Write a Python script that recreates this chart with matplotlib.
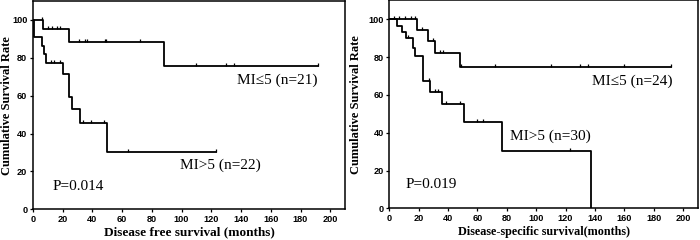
import numpy as np
import matplotlib
matplotlib.use("Agg")
import matplotlib.pyplot as plt

# ---------------------------------------------------------------
# Data
# ---------------------------------------------------------------
# left panel : disease free survival
dfs_low_t = [0, 7, 24, 88, 192]
dfs_low_s = [100, 95.2, 88.1, 75.5, 75.5]
dfs_low_cens = [6, 10, 13, 16.5, 18.5, 31, 35, 36.5, 48.5, 49.5, 72, 110, 130, 135, 192]

dfs_high_t = [0, 1, 6, 7.4, 8.5, 20, 24.5, 26, 32, 50, 123]
dfs_high_s = [100, 91, 86.4, 81.8, 77.3, 71.4, 59.5, 53.0, 45.4, 30.3, 30.3]
dfs_high_cens = [12, 14, 18, 34, 39, 48, 64, 123]

# right panel : disease-specific survival
dss_low_t = [0, 19, 26.5, 31, 48, 192]
dss_low_s = [100, 94.4, 88.5, 82.3, 74.8, 74.8]
dss_low_cens = [3, 7, 11, 15, 17.5, 22, 30, 34.5, 36.5, 49, 72, 110, 130, 135, 160, 192]

dss_high_t = [0, 5.6, 8.6, 11.6, 16.5, 17.7, 23.3, 28, 36, 51, 77, 137]
dss_high_s = [100, 96.7, 93.3, 89.9, 84.8, 80.7, 67.3, 61.5, 55.0, 45.8, 30.5, 0]
dss_high_cens = [12.5, 27, 31, 33.5, 38.5, 48, 60, 64, 123]

panels = [
    dict(curves=[(dfs_low_t, dfs_low_s, dfs_low_cens), (dfs_high_t, dfs_high_s, dfs_high_cens)],
         labels=[("MI\u22645 (n=21)", 137, 68), ("MI>5 (n=22)", 99, 23)],
         pval=("P=0.014", 13.5, 12), xlabel="Disease free survival (months)", xlsize=9.5,
         rect=[0.047, 0.128, 0.446, 0.868], ylab_x=-0.064),
    dict(curves=[(dss_low_t, dss_low_s, dss_low_cens), (dss_high_t, dss_high_s, dss_high_cens)],
         labels=[("MI\u22645 (n=24)", 138, 67.5), ("MI>5 (n=30)", 82, 38)],
         pval=("P=0.019", 11, 12.4), xlabel="Disease-specific survival(months)", xlsize=8.7,
         rect=[0.556, 0.132, 0.441, 0.866], ylab_x=-0.087),
]

serif = "Liberation Serif"
sans = "Liberation Sans"

fig = plt.figure(figsize=(7, 2.4), dpi=100)
tick_marker = [(0, 0), (0, 1)]

for p in panels:
    ax = fig.add_axes(p["rect"])
    for t, s, cens in p["curves"]:
        ax.step(t, s, where="post", color="black", lw=1.3)
        idx = np.searchsorted(t, cens, side="right") - 1
        cy = np.array(s)[idx]
        ax.plot(cens, cy, linestyle="none", marker=tick_marker, markersize=5,
                markeredgewidth=0.9, color="black")
    for txt, x, y in p["labels"]:
        ax.text(x, y, txt, fontsize=11, family=serif, va="center", ha="left")
    txt, x, y = p["pval"]
    ax.text(x, y, txt, fontsize=11, family=serif, va="center", ha="left")

    ax.set_xlim(0, 210)
    ax.set_ylim(0, 110)
    ax.set_xticks(np.arange(0, 201, 20))
    ax.set_yticks(np.arange(0, 101, 20))
    ax.tick_params(direction="out", length=2.5, width=0.9, pad=1.5, labelsize=6.6)
    for lab in ax.get_xticklabels() + ax.get_yticklabels():
        lab.set_family(sans)
        lab.set_fontweight("bold")
    for sp in ax.spines.values():
        sp.set_linewidth(1.1)
    ax.set_xlabel(p["xlabel"], fontsize=p["xlsize"], family=serif, fontweight="bold", labelpad=2)
    ax.set_ylabel("Cumulative Survival Rate", fontsize=9, family=serif, fontweight="bold")
    ax.yaxis.set_label_coords(p["ylab_x"], 0.5)

fig.savefig("out.png", dpi=100)
